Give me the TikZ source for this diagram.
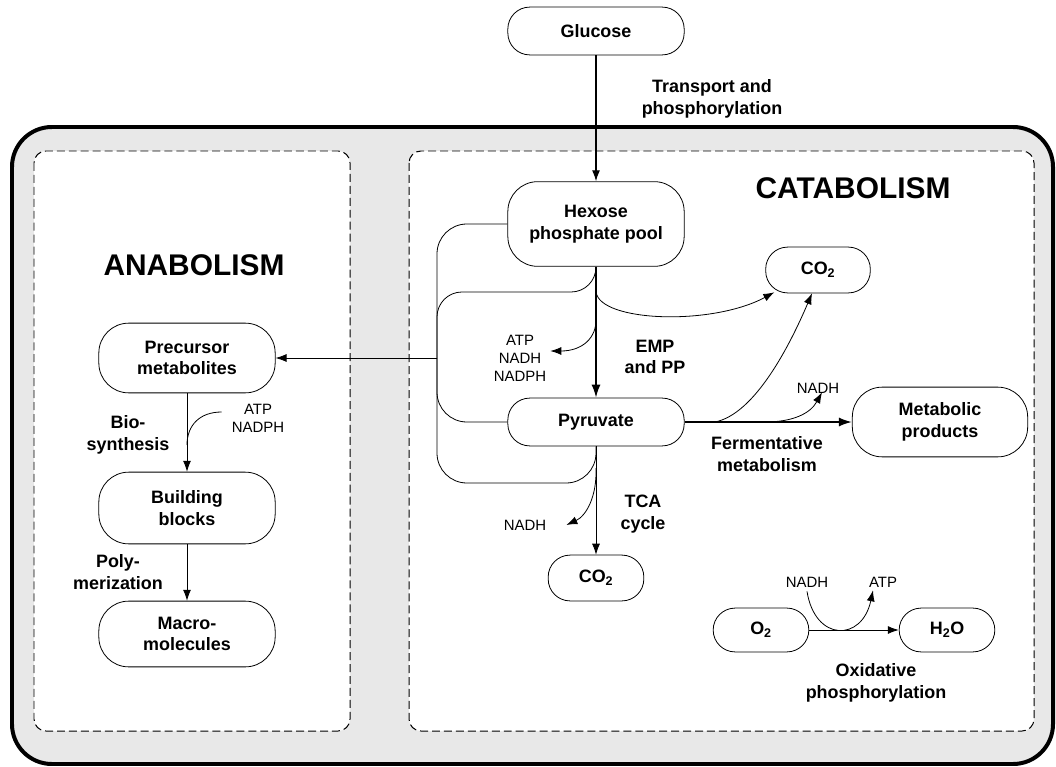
\documentclass[tikz,border=0pt]{standalone}
\usepackage{fontspec}
\setmainfont{Liberation Sans}
\usetikzlibrary{arrows.meta,calc}
\begin{document}
\begin{tikzpicture}[x=1bp,y=-1bp,
  pill/.style={draw=black, line width=0.8pt, fill=white, rounded corners=22,
    minimum width=177, minimum height=48, align=center, inner sep=0pt,
    font=\bfseries\fontsize{18}{21.5}\selectfont},
  tallpill/.style={pill, rounded corners=30, minimum height=70},
  smallpill/.style={pill, minimum width=100, minimum height=46},
  lbl/.style={font=\bfseries\fontsize{18}{21.5}\selectfont, align=center, inner sep=0pt},
  cof/.style={font=\fontsize{15}{18}\selectfont, align=center, inner sep=0pt},
  regiontitle/.style={font=\bfseries\fontsize{30}{35}\selectfont, inner sep=0pt},
  conn/.style={line width=0.8pt},
  arr/.style={conn, -{Latex[length=11pt,width=8pt]}},
  fat/.style={line width=1.8pt, -{Latex[length=13pt,width=9pt]}},
  region/.style={draw=black, line width=1pt, dash pattern=on 8pt off 4pt,
    fill=white, rounded corners=12},
]
\useasboundingbox (0,0) rectangle (1056,767);

% cell envelope and the two compartments
\draw[line width=4pt, fill=black!9, rounded corners=40] (12,127) rectangle (1053,764);
\draw[region] (34,151) rectangle (350,731);
\draw[region] (409,151) rectangle (1034,731);

\node[regiontitle] (catab) at (853,188) {CATABOLISM};
\node[regiontitle] (anab) at (194,265) {ANABOLISM};

% metabolite pools
\node[pill] (glc) at (596,31) {Glucose};
\node[pill, rounded corners=30, minimum height=85] (hex) at (596,224) {Hexose\\phosphate pool};
\node[pill] (pyr) at (596,422) {Pyruvate};
\node[smallpill, minimum width=105] (co2a) at (818,270) {CO\textsubscript{2}};
\node[tallpill, minimum width=176] (met) at (940,422) {Metabolic\\products};
\node[smallpill, minimum width=96] (co2b) at (596,578) {CO\textsubscript{2}};
\node[smallpill, minimum width=96, minimum height=44] (o2) at (761,630) {O\textsubscript{2}};
\node[smallpill, minimum width=96, minimum height=44] (h2o) at (947,630) {H\textsubscript{2}O};
\node[tallpill] (pre) at (187,358) {Precursor\\metabolites};
\node[tallpill, minimum height=72] (bb) at (187,508) {Building\\blocks};
\node[tallpill, minimum height=66] (mac) at (187,634) {Macro-\\molecules};

% pathway labels
\node[lbl] (tpl) at (712,99) {Transport and\\phosphorylation};
\node[lbl] (empl) at (655,357) {EMP\\and PP};
\node[cof] (c1) at (520,358) {ATP\\NADH\\NADPH};
\node[lbl] (ferl) at (767,454) {Fermentative\\metabolism};
\node[cof] (c2) at (818,388) {NADH};
\node[lbl] (tcal) at (643,514) {TCA\\cycle};
\node[cof] (c3) at (525,525) {NADH};
\node[cof] (c4) at (807,582) {NADH};
\node[cof] (c5) at (883,582) {ATP};
\node[lbl] (oxl) at (876,683) {Oxidative\\phosphorylation};
\node[lbl] (biol) at (128,435) {Bio-\\synthesis};
\node[cof] (c6) at (258,418) {ATP\\NADPH};
\node[lbl] (poll) at (118,572) {Poly-\\merization};

% branch points
\coordinate (jn) at (437,358);
\coordinate (hb) at (596,292);
\coordinate (hb2) at (596,318);
\coordinate (fb) at (715,422);
\coordinate (fb2) at (765,422);
\coordinate (pb) at (596,468);
\coordinate (bv) at (187,445);

% uptake and glycolysis
\draw[conn, line width=1.2pt, -{Latex[length=11pt,width=8pt]}] (glc) -- (hex);
\draw[fat] (hex) -- (pyr);

% drain of precursors to anabolism
\draw[conn, rounded corners=30] (hex.west) -| (jn);
\draw[conn, rounded corners=25] (hex.south) |- (437,292) -- (jn);
\draw[conn, rounded corners=30] (pyr.west) -| (jn);
\draw[conn, rounded corners=30] (pyr.south) |- (437,483) -- (jn);
\draw[arr] (jn) -- (pre.east |- jn);

% side branches of catabolism
\draw[arr] (hb) .. controls (600,322) and (712,326) .. ($(co2a.south west)+(9,-1)$);
\draw[arr] (hb2) .. controls (597,338) and (582,351) .. ($(c1.east)+(4,-7)$);
\draw[fat] (pyr) -- (met);
\draw[arr] (fb) .. controls (755,414) and (790,345) .. ($(co2a.south)+(-6,0)$);
\draw[arr] (fb2) .. controls (792,422) and (810,414) .. ($(c2.south)+(4,-1)$);
\draw[arr] (pyr) -- (co2b);
\draw[arr] (pb) .. controls (597,497) and (586,516) .. ($(c3.east)+(20,0)$);

% respiration
\draw[arr] (o2) -- (h2o);
\draw[arr] ($(c4.south)+(0,4)$) .. controls (815,642) and (862,642) .. ($(c5.south)+(-10,3)$);

% anabolism
\draw[arr] (pre) -- (bb);
\draw[conn] ($(c6.west)+(-10,-6)$) .. controls (200,412) and (187,425) .. (bv);
\draw[arr] (bb) -- (mac);
\end{tikzpicture}
\end{document}
